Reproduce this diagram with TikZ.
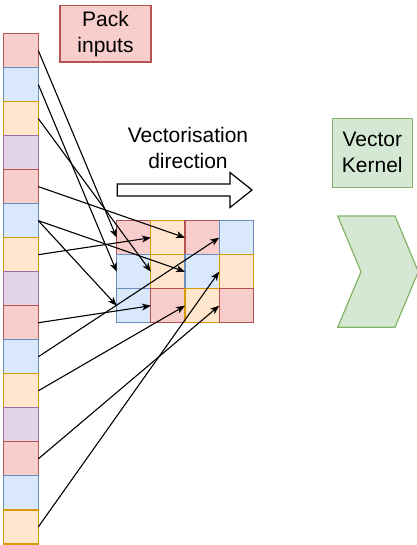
\documentclass[tikz,border=0pt]{standalone}
\usepackage{fontspec}
\setmainfont{Liberation Sans}
\usetikzlibrary{arrows.meta}

% fill / stroke pairs
\definecolor{redF}{HTML}{F8CECC}\definecolor{redD}{HTML}{B85450}
\definecolor{blueF}{HTML}{DAE8FC}\definecolor{blueD}{HTML}{6C8EBF}
\definecolor{orangeF}{HTML}{FFE6CC}\definecolor{orangeD}{HTML}{D79B00}
\definecolor{purpleF}{HTML}{E1D5E7}\definecolor{purpleD}{HTML}{9673A6}
\definecolor{greenF}{HTML}{D5E8D4}\definecolor{greenD}{HTML}{82B366}

\begin{document}
\begin{tikzpicture}[x=1pt,y=-1pt,
  cellbox/.style={fill=#1F, draw=#1D, line width=1.2pt, inner sep=0pt, outer sep=0pt},
  colcell/.style={cellbox=#1, minimum width=35pt, minimum height=34.03pt},
  gridcell/.style={cellbox=#1, minimum width=34.15pt, minimum height=34pt},
  label/.style={align=center, font=\fontsize{21}{26}\selectfont, inner sep=0pt},
  arr/.style={line width=1.1pt, -{Stealth[length=9pt,width=7pt,inset=2.5pt]}}
]
\useasboundingbox (0,0) rectangle (416,545);

% packed input column
\foreach \i/\c in {1/red,2/blue,3/orange,4/purple,5/red,6/blue,7/orange,8/purple,
                   9/red,10/blue,11/orange,12/purple,13/red,14/blue,15/orange}
  \node[colcell=\c] (s\i) at (20.8,{50.5+34.03*(\i-1)}) {};

% vector tile grid
\foreach \r/\k/\c in {1/1/red,1/2/orange,1/3/red,1/4/blue,
                      2/1/blue,2/2/orange,2/3/blue,2/4/orange,
                      3/1/blue,3/2/red,3/3/orange,3/4/red}
  \node[gridcell=\c] (g\r\k) at ({133.8+34.15*(\k-1)},{237.7+34*(\r-1)}) {};

% labels
\node[cellbox=red, minimum width=91pt, minimum height=56.3pt, label] (pack) at (105.5,33.8) {Pack\\inputs};
\node[label] (vdir) at (188,147.5) {Vectorisation\\direction};
\node[cellbox=green, minimum width=80pt, minimum height=69pt, label] (kern) at (372.3,152.8) {Vector\\Kernel};

% vectorisation direction arrow
\draw[line width=1.2pt, fill=white] (117.3,184) -- (230,184) -- (230,172.5) -- (252,190)
  -- (230,207.5) -- (230,196) -- (117.3,196) -- cycle;

% kernel chevron
\draw[fill=greenF, draw=greenD, line width=1.2pt] (337.7,216) -- (395,216) -- (418.3,271.7)
  -- (395,327.3) -- (337.7,327.3) -- (361,271.7) -- cycle;

% packing connectors
\draw[arr] (s1.east) -- (g11.west);
\draw[arr] (s2.east) -- (g21.west);
\draw[arr] (s3.east) -- (g22.west);
\draw[arr] (s5.east) -- (g13.west);
\draw[arr] (s6.east) -- (g23.west);
\draw[arr] (s6.east) -- (g31.west);
\draw[arr] (s7.east) -- (g12.west);
\draw[arr] (s9.east) -- (g32.west);
\draw[arr] (s10.east) -- (g14.west);
\draw[arr] (s11.east) -- (g33.west);
\draw[arr] (s13.east) -- (g34.west);
\draw[arr] (s15.east) -- (g24.west);
\end{tikzpicture}
\end{document}
